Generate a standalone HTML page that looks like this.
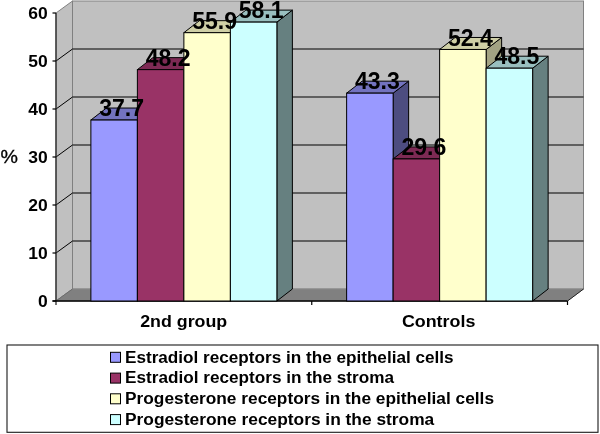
<!DOCTYPE html>
<html><head><meta charset="utf-8"><title>chart</title>
<style>html,body{margin:0;padding:0;background:#fff}body{width:600px;height:434px;position:relative;overflow:hidden;font-family:"Liberation Sans",sans-serif}</style></head>
<body>
<svg width="600" height="434" viewBox="0 0 600 434" style="position:absolute;left:0;top:0;will-change:transform;font-family:&quot;Liberation Sans&quot;,sans-serif" font-weight="bold">
<polygon points="56.0,13.0 72.5,1.0 72.5,289.0 56.0,301.0" fill="#C0C0C0" stroke="#808080" stroke-width="1"/>
<rect x="72.5" y="1.0" width="511.0" height="288.0" fill="#C0C0C0" stroke="#808080" stroke-width="1"/>
<polygon points="56.0,301.0 72.5,289.0 583.5,289.0 567.5,301.0" fill="#808080" stroke="#8c8c8c" stroke-width="0.8"/>
<line x1="567.5" y1="301.0" x2="583.5" y2="289.0" stroke="#222" stroke-width="1"/>
<line x1="56.0" y1="301.0" x2="72.5" y2="289.0" stroke="#6a6a6a" stroke-width="1"/>
<polyline points="56.0,253.0 72.5,241.0 583.5,241.0" fill="none" stroke="#000" stroke-width="1"/>
<polyline points="56.0,205.0 72.5,193.0 583.5,193.0" fill="none" stroke="#000" stroke-width="1"/>
<polyline points="56.0,157.0 72.5,145.0 583.5,145.0" fill="none" stroke="#000" stroke-width="1"/>
<polyline points="56.0,109.0 72.5,97.0 583.5,97.0" fill="none" stroke="#000" stroke-width="1"/>
<polyline points="56.0,61.0 72.5,49.0 583.5,49.0" fill="none" stroke="#000" stroke-width="1"/>
<line x1="56.0" y1="13.0" x2="56.0" y2="305.0" stroke="#2a2a2a" stroke-width="1.3"/>
<line x1="52.5" y1="301.0" x2="567.5" y2="301.0" stroke="#000" stroke-width="1.5"/>
<line x1="52.5" y1="301.0" x2="56.0" y2="301.0" stroke="#000" stroke-width="1.2"/>
<text transform="translate(47.70,306.80) scale(1.03,1)" font-size="17" text-anchor="end">0</text>
<line x1="52.5" y1="253.0" x2="56.0" y2="253.0" stroke="#000" stroke-width="1.2"/>
<text transform="translate(47.70,258.80) scale(1.03,1)" font-size="17" text-anchor="end">10</text>
<line x1="52.5" y1="205.0" x2="56.0" y2="205.0" stroke="#000" stroke-width="1.2"/>
<text transform="translate(47.70,210.80) scale(1.03,1)" font-size="17" text-anchor="end">20</text>
<line x1="52.5" y1="157.0" x2="56.0" y2="157.0" stroke="#000" stroke-width="1.2"/>
<text transform="translate(47.70,162.80) scale(1.03,1)" font-size="17" text-anchor="end">30</text>
<line x1="52.5" y1="109.0" x2="56.0" y2="109.0" stroke="#000" stroke-width="1.2"/>
<text transform="translate(47.70,114.80) scale(1.03,1)" font-size="17" text-anchor="end">40</text>
<line x1="52.5" y1="61.0" x2="56.0" y2="61.0" stroke="#000" stroke-width="1.2"/>
<text transform="translate(47.70,66.80) scale(1.03,1)" font-size="17" text-anchor="end">50</text>
<line x1="52.5" y1="13.0" x2="56.0" y2="13.0" stroke="#000" stroke-width="1.2"/>
<text transform="translate(47.70,18.80) scale(1.03,1)" font-size="17" text-anchor="end">60</text>
<line x1="311.75" y1="301.0" x2="311.75" y2="305.0" stroke="#000" stroke-width="1.2"/>
<line x1="567.5" y1="301.0" x2="567.5" y2="305.0" stroke="#000" stroke-width="1.2"/>
<polygon points="137.375,120.03999999999999 152.875,108.03999999999999 152.875,289.0 137.375,301.0" fill="#4D4D80" stroke="#000" stroke-width="1" stroke-linejoin="round"/>
<polygon points="90.875,120.03999999999999 106.375,108.03999999999999 152.875,108.03999999999999 137.375,120.03999999999999" fill="#7373BF" stroke="#000" stroke-width="1" stroke-linejoin="round"/>
<rect x="90.875" y="120.03999999999999" width="46.5" height="180.96" fill="#9999FF" stroke="#000" stroke-width="1"/>
<polygon points="183.875,69.63999999999999 199.375,57.639999999999986 199.375,289.0 183.875,301.0" fill="#4D1A33" stroke="#000" stroke-width="1" stroke-linejoin="round"/>
<polygon points="137.375,69.63999999999999 152.875,57.639999999999986 199.375,57.639999999999986 183.875,69.63999999999999" fill="#7D2A54" stroke="#000" stroke-width="1" stroke-linejoin="round"/>
<rect x="137.375" y="69.63999999999999" width="46.5" height="231.36" fill="#993366" stroke="#000" stroke-width="1"/>
<polygon points="230.375,32.68000000000001 245.875,20.680000000000007 245.875,289.0 230.375,301.0" fill="#A3A383" stroke="#000" stroke-width="1" stroke-linejoin="round"/>
<polygon points="183.875,32.68000000000001 199.375,20.680000000000007 245.875,20.680000000000007 230.375,32.68000000000001" fill="#CFCFA6" stroke="#000" stroke-width="1" stroke-linejoin="round"/>
<rect x="183.875" y="32.68000000000001" width="46.5" height="268.32" fill="#FFFFCC" stroke="#000" stroke-width="1"/>
<polygon points="276.875,22.120000000000005 292.375,10.120000000000005 292.375,289.0 276.875,301.0" fill="#668080" stroke="#000" stroke-width="1" stroke-linejoin="round"/>
<polygon points="230.375,22.120000000000005 245.875,10.120000000000005 292.375,10.120000000000005 276.875,22.120000000000005" fill="#99BFBF" stroke="#000" stroke-width="1" stroke-linejoin="round"/>
<rect x="230.375" y="22.120000000000005" width="46.5" height="278.88" fill="#CCFFFF" stroke="#000" stroke-width="1"/>
<polygon points="393.125,93.16000000000003 408.625,81.16000000000003 408.625,289.0 393.125,301.0" fill="#4D4D80" stroke="#000" stroke-width="1" stroke-linejoin="round"/>
<polygon points="346.625,93.16000000000003 362.125,81.16000000000003 408.625,81.16000000000003 393.125,93.16000000000003" fill="#7373BF" stroke="#000" stroke-width="1" stroke-linejoin="round"/>
<rect x="346.625" y="93.16000000000003" width="46.5" height="207.83999999999997" fill="#9999FF" stroke="#000" stroke-width="1"/>
<polygon points="439.625,158.92 455.125,146.92 455.125,289.0 439.625,301.0" fill="#4D1A33" stroke="#000" stroke-width="1" stroke-linejoin="round"/>
<polygon points="393.125,158.92 408.625,146.92 455.125,146.92 439.625,158.92" fill="#7D2A54" stroke="#000" stroke-width="1" stroke-linejoin="round"/>
<rect x="393.125" y="158.92" width="46.5" height="142.08" fill="#993366" stroke="#000" stroke-width="1"/>
<polygon points="486.125,49.48000000000002 501.625,37.48000000000002 501.625,289.0 486.125,301.0" fill="#A3A383" stroke="#000" stroke-width="1" stroke-linejoin="round"/>
<polygon points="439.625,49.48000000000002 455.125,37.48000000000002 501.625,37.48000000000002 486.125,49.48000000000002" fill="#CFCFA6" stroke="#000" stroke-width="1" stroke-linejoin="round"/>
<rect x="439.625" y="49.48000000000002" width="46.5" height="251.51999999999998" fill="#FFFFCC" stroke="#000" stroke-width="1"/>
<polygon points="532.625,68.20000000000002 548.125,56.20000000000002 548.125,289.0 532.625,301.0" fill="#668080" stroke="#000" stroke-width="1" stroke-linejoin="round"/>
<polygon points="486.125,68.20000000000002 501.625,56.20000000000002 548.125,56.20000000000002 532.625,68.20000000000002" fill="#99BFBF" stroke="#000" stroke-width="1" stroke-linejoin="round"/>
<rect x="486.125" y="68.20000000000002" width="46.5" height="232.79999999999998" fill="#CCFFFF" stroke="#000" stroke-width="1"/>
<text transform="translate(121.62,116.24) scale(0.943,1)" font-size="24.5" text-anchor="middle">37.7</text>
<text transform="translate(168.12,65.84) scale(0.943,1)" font-size="24.5" text-anchor="middle">48.2</text>
<text transform="translate(214.62,28.88) scale(0.943,1)" font-size="24.5" text-anchor="middle">55.9</text>
<text transform="translate(261.12,18.32) scale(0.943,1)" font-size="24.5" text-anchor="middle">58.1</text>
<text transform="translate(377.38,89.36) scale(0.943,1)" font-size="24.5" text-anchor="middle">43.3</text>
<text transform="translate(423.88,155.12) scale(0.943,1)" font-size="24.5" text-anchor="middle">29.6</text>
<text transform="translate(470.38,45.68) scale(0.943,1)" font-size="24.5" text-anchor="middle">52.4</text>
<text transform="translate(516.88,64.40) scale(0.943,1)" font-size="24.5" text-anchor="middle">48.5</text>
<text transform="translate(183.68,326.50) scale(1.048,1)" font-size="17" text-anchor="middle">2nd group</text>
<text transform="translate(438.62,326.50) scale(1.052,1)" font-size="17" text-anchor="middle">Controls</text>
<text stroke="#000" stroke-width="0.3" transform="translate(0.40,162.60) scale(1.09,1)" font-size="18" text-anchor="start" font-weight="normal">%</text>
<rect x="7" y="345" width="591" height="87.3" fill="#fff" stroke="#1a1a1a" stroke-width="1.1"/>
<rect x="110.5" y="352.3" width="10" height="10" fill="#9999FF" stroke="#000" stroke-width="1"/>
<text transform="translate(125.00,362.50) scale(1.009,1)" font-size="17" text-anchor="start">Estradiol receptors in the epithelial cells</text>
<rect x="110.5" y="373.1" width="10" height="10" fill="#993366" stroke="#000" stroke-width="1"/>
<text transform="translate(125.00,383.25) scale(1.01,1)" font-size="17" text-anchor="start">Estradiol receptors in the stroma</text>
<rect x="110.5" y="393.8" width="10" height="10" fill="#FFFFCC" stroke="#000" stroke-width="1"/>
<text transform="translate(125.00,404.00) scale(1.018,1)" font-size="17" text-anchor="start">Progesterone receptors in the epithelial cells</text>
<rect x="110.5" y="414.6" width="10" height="10" fill="#CCFFFF" stroke="#000" stroke-width="1"/>
<text transform="translate(125.00,424.75) scale(1.021,1)" font-size="17" text-anchor="start">Progesterone receptors in the stroma</text>
</svg>
</body></html>
